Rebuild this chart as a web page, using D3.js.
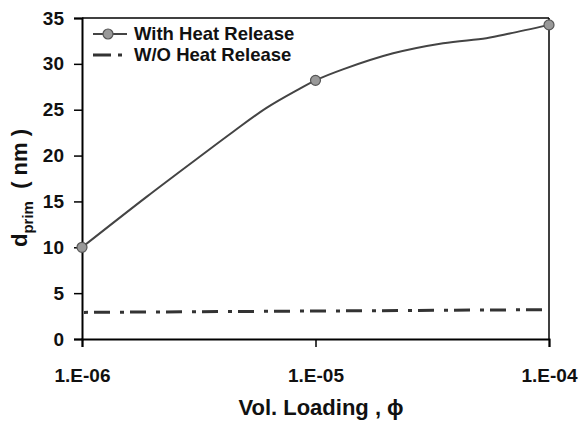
<!DOCTYPE html>
<html>
<head>
<meta charset="utf-8">
<script src="https://cdn.jsdelivr.net/npm/d3@7"></script>
<style>
  html, body { margin: 0; padding: 0; background: #fff; }
  svg { display: block; font-family: "Liberation Sans", Arial, sans-serif; font-weight: bold; }
</style>
</head>
<body>
<svg id="chart" width="585" height="421"></svg>
<script>
// Primary particle size vs. volume loading
const heatLoading = [1e-6, 1.89e-6, 3.2e-6, 4.44e-6, 6.17e-6, 8.57e-6, 1e-5, 1.31e-5, 2.15e-5, 3.52e-5, 5.39e-5, 6.78e-5, 1e-4];
const heatSize    = [10.0, 15.5, 19.9, 22.6, 25.2, 27.3, 28.2, 29.4, 31.15, 32.25, 32.8, 33.3, 34.25];
const markerLoading = [1e-6, 1e-5, 1e-4];
const markerSize    = [10.0, 28.2, 34.25];
const noHeatLoading = [1e-6, 1e-4];
const noHeatSize    = [2.9, 3.2];
const xTicks = [1e-6, 1e-5, 1e-4];
const xTickLabels = ["1.E-06", "1.E-05", "1.E-04"];
const yTicks = [0, 5, 10, 15, 20, 25, 30, 35];
const seriesNames = ["With Heat Release", "W/O Heat Release"];

const svg = d3.select("#chart");
const m = { left: 82, right: 549, top: 18, bottom: 339 };

const x = d3.scaleLog().domain([1e-6, 1e-4]).range([m.left, m.right]);
const y = d3.scaleLinear().domain([0, 35]).range([m.bottom, m.top]);

// frame: top and right edges
svg.append("line").attr("x1", m.left).attr("x2", m.right).attr("y1", m.top).attr("y2", m.top)
  .attr("stroke", "#000").attr("stroke-width", 1.5);
svg.append("line").attr("x1", m.right).attr("x2", m.right).attr("y1", m.top).attr("y2", m.bottom)
  .attr("stroke", "#000").attr("stroke-width", 1.5);

// y axis
const yAxis = svg.append("g").attr("transform", `translate(${m.left},0)`)
  .call(d3.axisLeft(y).tickValues(yTicks).tickSize(8).tickPadding(10).tickFormat(d3.format("d")));
yAxis.select(".domain").attr("stroke", "#000").attr("stroke-width", 2);
yAxis.selectAll(".tick line").attr("stroke", "#000").attr("stroke-width", 1.5);
yAxis.selectAll(".tick text").attr("font-size", 19).attr("font-weight", "bold").attr("fill", "#111")
  .attr("font-family", "Liberation Sans, Arial, sans-serif");

// x axis
const xAxis = svg.append("g").attr("transform", `translate(0,${m.bottom})`)
  .call(d3.axisBottom(x).tickValues(xTicks).tickSize(8).tickPadding(22)
    .tickFormat((d, i) => xTickLabels[i]));
xAxis.select(".domain").attr("stroke", "#000").attr("stroke-width", 2);
xAxis.selectAll(".tick line").attr("stroke", "#000").attr("stroke-width", 1.5);
xAxis.selectAll(".tick text").attr("font-size", 19).attr("font-weight", "bold").attr("fill", "#111")
  .attr("font-family", "Liberation Sans, Arial, sans-serif");

// series without heat release (dash-dot)
const noHeat = noHeatLoading.map((v, i) => [v, noHeatSize[i]]);
svg.append("path").datum(noHeat)
  .attr("d", d3.line().x(d => x(d[0])).y(d => y(d[1])))
  .attr("fill", "none").attr("stroke", "#333").attr("stroke-width", 3)
  .attr("stroke-dasharray", "4,6,16,10").attr("stroke-dashoffset", -2);

// series with heat release (smooth line)
const heat = heatLoading.map((v, i) => [v, heatSize[i]]);
svg.append("path").datum(heat)
  .attr("d", d3.line().x(d => x(d[0])).y(d => y(d[1])).curve(d3.curveCatmullRom.alpha(0.5)))
  .attr("fill", "none").attr("stroke", "#444").attr("stroke-width", 2);

svg.selectAll("circle.mk").data(markerLoading.map((v, i) => [v, markerSize[i]]))
  .join("circle").attr("class", "mk")
  .attr("cx", d => x(d[0])).attr("cy", d => y(d[1])).attr("r", 5)
  .attr("fill", "#999").attr("stroke", "#555").attr("stroke-width", 1.2);

// legend
const lg = svg.append("g");
lg.append("line").attr("x1", 93).attr("x2", 127).attr("y1", 34).attr("y2", 34)
  .attr("stroke", "#444").attr("stroke-width", 2);
lg.append("circle").attr("cx", 108).attr("cy", 34).attr("r", 5)
  .attr("fill", "#999").attr("stroke", "#555").attr("stroke-width", 1.2);
lg.append("text").attr("x", 134).attr("y", 40).attr("font-size", 18.5).attr("fill", "#111").text(seriesNames[0]);
lg.append("line").attr("x1", 93).attr("x2", 127).attr("y1", 55).attr("y2", 55)
  .attr("stroke", "#333").attr("stroke-width", 3).attr("stroke-dasharray", "18,7,4,20");
lg.append("text").attr("x", 134).attr("y", 61).attr("font-size", 18.5).attr("fill", "#111").text(seriesNames[1]);

// axis titles
svg.append("text").attr("x", 321).attr("y", 415).attr("text-anchor", "middle")
  .attr("font-size", 22).attr("fill", "#111").text("Vol. Loading , \u03D5");

const yt = svg.append("text").attr("transform", "translate(27,188) rotate(-90)")
  .attr("text-anchor", "middle").attr("font-size", 22).attr("fill", "#111");
yt.append("tspan").text("d");
yt.append("tspan").attr("font-size", 15).attr("dy", 6).text("prim");
yt.append("tspan").attr("dy", -6).text("  ( nm )").attr("xml:space", "preserve");
</script>
</body>
</html>
